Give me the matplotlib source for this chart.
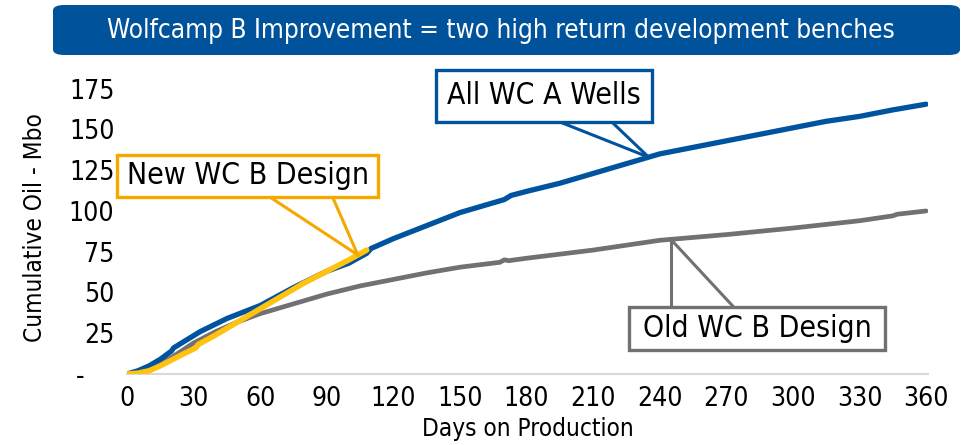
import matplotlib
matplotlib.use("Agg")
import matplotlib.pyplot as plt
import numpy as np
from matplotlib.patches import FancyBboxPatch, Rectangle

# ---- data ----
wca_days = [0, 5, 10, 15, 20, 21, 33, 45, 60, 75, 90, 100, 108, 110, 120, 135, 150, 165,
            170, 173, 180, 195, 210, 225, 240, 255, 270, 285, 300, 315, 330, 345, 360]
wca_oil = [0, 2, 5, 9, 14, 16, 26, 34, 42, 53, 63, 68, 74, 77, 83, 91, 99, 105,
           107, 109.5, 112, 117, 123, 129, 135, 139, 143, 147, 151, 155, 158, 162, 165.5]

old_days = [0, 10, 20, 30, 40, 50, 60, 75, 90, 105, 120, 135, 150, 168, 170, 172, 180,
            210, 240, 270, 300, 330, 345, 347, 360]
old_oil = [0, 3, 10, 19, 26, 32, 37, 43, 49, 54, 58, 62, 65.5, 68.5, 70, 69.5, 71,
           76, 82, 85.5, 89.5, 94, 97, 98, 100]

new_days = [0, 5, 10, 15, 20, 25, 31, 32, 40, 50, 60, 70, 80, 90, 100, 108]
new_oil = [0, 0.5, 2, 5, 8.5, 12, 16, 18, 24, 32, 40, 48, 56, 63, 70, 76]

x_ticks = list(range(0, 361, 30))
y_ticks = [0, 25, 50, 75, 100, 125, 150, 175]
y_tick_labels = ["-    ", "25", "50", "75", "100", "125", "150", "175"]

title = "Wolfcamp B Improvement = two high return development benches"

BLUE = "#00539F"
GREY = "#717075"
YELLOW = "#FFC20E"
ORANGE = "#F5A800"

plt.rcParams["font.family"] = ["DejaVu Sans"]
plt.rcParams["font.stretch"] = "condensed"

fig = plt.figure(figsize=(9.67, 4.45), dpi=100)
ax = fig.add_axes([0.1313, 0.1596, 0.8287, 0.6594])

ax.plot(old_days, old_oil, color=GREY, lw=3.4, solid_capstyle="round", zorder=2)
ax.plot(wca_days, wca_oil, color=BLUE, lw=3.8, solid_capstyle="round", zorder=3)
ax.plot(new_days, new_oil, color=YELLOW, lw=4.0, solid_capstyle="round", zorder=4)

ax.set_xlim(0, 361)
ax.set_ylim(0, 180)
ax.set_xticks(x_ticks)
ax.set_yticks(y_ticks)
ax.set_yticklabels(y_tick_labels)
ax.tick_params(length=0, labelsize=19, pad=9)
ax.tick_params(axis="y", pad=9)
for s in ["top", "right", "left"]:
    ax.spines[s].set_visible(False)
ax.spines["bottom"].set_color("#D9D9D9")
ax.spines["bottom"].set_linewidth(1.5)
ax.set_xlabel("Days on Production", fontsize=17.5, labelpad=3)
ax.set_ylabel("Cumulative Oil - Mbo", fontsize=17.5, labelpad=16)


def callout(text, box, bases, tip, color, size):
    (x0, y0, x1, y1) = box
    ax.add_patch(Rectangle((x0, y1), x1 - x0, y0 - y1, facecolor="white",
                           edgecolor=color, lw=2.4, clip_on=False, zorder=6))
    for bx, by in bases:
        ax.plot([bx, tip[0]], [by, tip[1]], color=color, lw=2.2, clip_on=False, zorder=5)
    ax.text((x0 + x1) / 2, (y0 + y1) / 2, text, ha="center", va="center",
            fontsize=size, zorder=7, clip_on=False)


# tips sit on the curves
tip_a = (235, np.interp(235, wca_days, wca_oil))
callout("All WC A Wells", (139, 186.5, 236.4, 154.6),
        [(195, 154.6), (218.4, 154.6)], tip_a, BLUE, 21.6)

tip_n = (new_days[-1] - 4, np.interp(new_days[-1] - 4, new_days, new_oil))
callout("New WC B Design", (-4.5, 134.4, 113.3, 108.6),
        [(64.3, 108.6), (92.6, 108.6)], tip_n, ORANGE, 21.6)

tip_o = (245, np.interp(245, old_days, old_oil))
callout("Old WC B Design", (226, 41.1, 341.6, 14.7),
        [(245, 41.1), (273.3, 41.1)], tip_o, GREY, 21.6)

# title banner
fig.patches.append(FancyBboxPatch((53 / 967, 1 - 55 / 445), 907 / 967, 50 / 445,
                                  boxstyle="round,pad=0,rounding_size=0.012",
                                  transform=fig.transFigure, facecolor="#00529B",
                                  edgecolor="none"))
fig.text(501 / 967, 1 - 31 / 445, title, color="white", fontsize=18.8,
         ha="center", va="center")

fig.savefig("out.png", dpi=100, facecolor="white")
